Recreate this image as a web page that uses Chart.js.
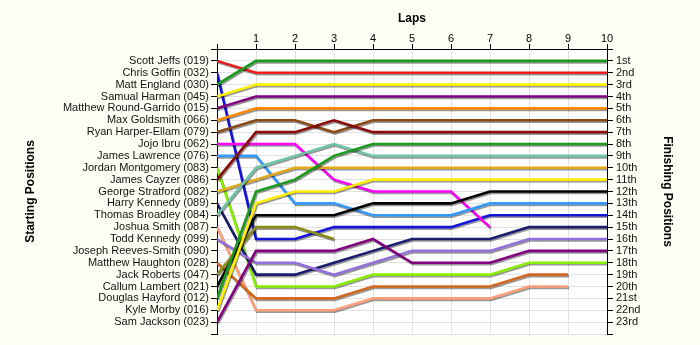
<!DOCTYPE html>
<html>
<head>
<meta charset="utf-8">
<script src="https://cdn.jsdelivr.net/npm/chart.js@4.4.1/dist/chart.umd.min.js"></script>
<style>
  html, body { margin: 0; padding: 0; background: #FFFEF4; }
  #lapChart { display: block; }
</style>
</head>
<body>
<canvas id="lapChart" width="700" height="345"></canvas>
<script>
var laps = [0, 1, 2, 3, 4, 5, 6, 7, 8, 9, 10];

var drivers = [
    "Scott Jeffs (019)", "Chris Goffin (032)", "Matt England (030)", "Samual Harman (045)",
    "Matthew Round-Garrido (015)", "Max Goldsmith (066)", "Ryan Harper-Ellam (079)", "Jojo Ibru (062)",
    "James Lawrence (076)", "Jordan Montgomery (083)", "James Cayzer (086)", "George Stratford (082)",
    "Harry Kennedy (089)", "Thomas Broadley (084)", "Joshua Smith (087)", "Todd Kennedy (099)",
    "Joseph Reeves-Smith (090)", "Matthew Haughton (028)", "Jack Roberts (047)", "Callum Lambert (021)",
    "Douglas Hayford (012)", "Kyle Morby (016)", "Sam Jackson (023)"
];

var finishLabels = [
    "1st", "2nd", "3rd", "4th", "5th", "6th", "7th", "8th", "9th", "10th", "11th", "12th",
    "13th", "14th", "15th", "16th", "17th", "18th", "19th", "20th", "21st", "22nd", "23rd"
];

var lineColors = [
    "#EE1C1C", "#1414D8", "#1A9A1A", "#FFEE00", "#800080", "#FF8A00", "#8B4A14", "#FF00FF",
    "#3399FF", "#88EE00", "#8B0A0A", "#E6A817", "#1C1C6E", "#6EC4A8", "#FFA07A", "#9370DB",
    "#999999", "#D2691E", "#8B8B1A", "#000000", "#1A9A1A", "#FFEE00", "#800080"
];

// position of each driver at the end of each lap (index = lap)
var lapPositions = [
    [1, 2, 2, 2, 2, 2, 2, 2, 2, 2, 2],
    [2, 16, 16, 15, 15, 15, 15, 14, 14, 14, 14],
    [3, 1, 1, 1, 1, 1, 1, 1, 1, 1, 1],
    [4, 3, 3, 3, 3, 3, 3, 3, 3, 3, 3],
    [5, 4, 4, 4, 4, 4, 4, 4, 4, 4, 4],
    [6, 5, 5, 5, 5, 5, 5, 5, 5, 5, 5],
    [7, 6, 6, 7, 6, 6, 6, 6, 6, 6, 6],
    [8, 8, 8, 11, 12, 12, 12, 15],
    [9, 9, 13, 13, 14, 14, 14, 13, 13, 13, 13],
    [10, 20, 20, 20, 19, 19, 19, 19, 18, 18, 18],
    [11, 7, 7, 6, 7, 7, 7, 7, 7, 7, 7],
    [12, 11, 10, 10, 10, 10, 10, 10, 10, 10, 10],
    [13, 19, 19, 18, 17, 16, 16, 16, 15, 15, 15],
    [14, 10, 9, 8, 9, 9, 9, 9, 9, 9, 9],
    [15, 22, 22, 22, 21, 21, 21, 21, 20, 20],
    [16, 18, 18, 19, 18, 17, 17, 17, 16, 16, 16],
    [17],
    [18, 21, 21, 21, 20, 20, 20, 20, 19, 19],
    [19, 15, 15, 16],
    [20, 14, 14, 14, 13, 13, 13, 12, 12, 12, 12],
    [21, 12, 11, 9, 8, 8, 8, 8, 8, 8, 8],
    [22, 13, 12, 12, 11, 11, 11, 11, 11, 11, 11],
    [23, 17, 17, 17, 16, 18, 18, 18, 17, 17, 17]
];

var gridColor = "#E2E2E2";
var labelFont = { family: "'Liberation Sans', Arial, sans-serif", size: 11 };
var titleFont = { family: "'Liberation Sans', Arial, sans-serif", size: 12, weight: "bold" };

var datasets = drivers.map(function(name, i){
    return {
        label: name,
        data: lapPositions[i].map(function(pos, lap){ return { x: laps[lap], y: pos }; }),
        borderColor: lineColors[i],
        backgroundColor: lineColors[i],
        borderWidth: 2.6,
        pointRadius: 0,
        tension: 0,
        fill: false,
        order: drivers.length - i
    };
});

// paper colour outside, white plot area
var backgroundPlugin = {
    id: "paper",
    beforeDraw: function(chart){
        var c = chart.ctx, a = chart.chartArea;
        c.save();
        c.fillStyle = "#FFFEF4";
        c.fillRect(0, 0, chart.width, chart.height);
        c.fillStyle = "#FFFFFF";
        c.fillRect(a.left, a.top, a.right - a.left, a.bottom - a.top);
        c.restore();
    }
};

// grey drop shadow under each line
var shadowPlugin = {
    id: "lineShadow",
    beforeDatasetDraw: function(chart){
        var c = chart.ctx;
        c.save();
        c.shadowColor = "rgba(0,0,0,0.4)";
        c.shadowOffsetX = 1;
        c.shadowOffsetY = 1.5;
        c.shadowBlur = 0;
    },
    afterDatasetDraw: function(chart){
        chart.ctx.restore();
    }
};

new Chart(document.getElementById("lapChart"), {
    type: "line",
    data: { datasets: datasets },
    options: {
        responsive: false,
        animation: false,
        layout: { padding: { left: 0, right: 0, top: 0, bottom: 11 } },
        plugins: {
            legend: { display: false },
            tooltip: { enabled: false }
        },
        scales: {
            x: {
                type: "linear",
                position: "top",
                min: 0,
                max: 10,
                ticks: {
                    stepSize: 1,
                    padding: -2,
                    color: "#000",
                    font: labelFont,
                    callback: function(v){ return v === 0 ? "" : v; }
                },
                grid: { color: gridColor, tickColor: "#000", tickLength: 5 },
                border: { color: "#000", width: 1 },
                title: { display: true, text: "Laps", color: "#000", font: titleFont, padding: { top: 11, bottom: 0 } },
                afterFit: function(scale){ scale.height = 49; }
            },
            y: {
                type: "linear",
                position: "left",
                reverse: true,
                min: 0,
                max: 24,
                ticks: {
                    stepSize: 1,
                    autoSkip: false,
                    padding: 2,
                    color: "#111",
                    font: labelFont,
                    callback: function(v){ return drivers[v - 1] || ""; }
                },
                grid: { color: gridColor, tickColor: "#000", tickLength: 6 },
                border: { color: "#000", width: 1 },
                title: { display: true, text: "Starting Positions", color: "#000", font: titleFont, padding: { top: 23, bottom: 0 } },
                afterFit: function(scale){ scale.width = 217; }
            },
            y2: {
                type: "linear",
                position: "right",
                reverse: true,
                min: 0,
                max: 24,
                ticks: {
                    stepSize: 1,
                    autoSkip: false,
                    padding: 3,
                    color: "#111",
                    font: labelFont,
                    callback: function(v){ return finishLabels[v - 1] || ""; }
                },
                grid: { drawOnChartArea: false, tickColor: "#000", tickLength: 6 },
                border: { color: "#000", width: 1 },
                title: { display: true, text: "Finishing Positions", color: "#000", font: titleFont, padding: { top: 25, bottom: 0 } },
                afterFit: function(scale){ scale.width = 93; }
            }
        }
    },
    plugins: [backgroundPlugin, shadowPlugin]
});
</script>
</body>
</html>
